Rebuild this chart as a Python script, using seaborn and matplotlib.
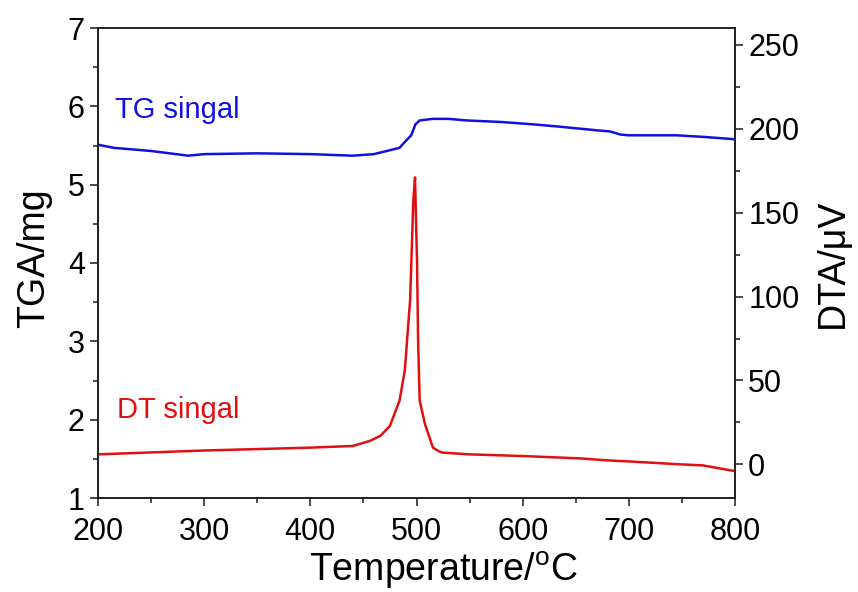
import numpy as np
import pandas as pd
import seaborn as sns
import matplotlib.pyplot as plt
from matplotlib.ticker import MultipleLocator

# TG signal (left axis, mg)
tg_temp = [200, 215, 250, 285, 300, 350, 400, 440, 460, 475, 484, 490, 495,
           499, 503, 515, 530, 547, 580, 610, 635, 650, 673, 682, 692, 700,
           745, 770, 800]
tg_mass = [5.51, 5.47, 5.43, 5.37, 5.39, 5.40, 5.39, 5.37, 5.39, 5.44, 5.47,
           5.56, 5.63, 5.77, 5.82, 5.84, 5.84, 5.82, 5.80, 5.77, 5.74, 5.72,
           5.69, 5.68, 5.64, 5.63, 5.63, 5.61, 5.58]

# DT signal (right axis, uV)
dt_temp = [200, 300, 400, 440, 456, 466, 475, 484, 489, 494, 497, 498.6,
           500.5, 501.5, 503, 508, 515.5, 522, 525, 550, 600, 654, 680, 700,
           750, 770, 800]
dt_volt = [6, 8.3, 10, 11, 14, 17, 23, 38, 56, 98, 157, 171, 121, 74, 38,
           24, 10, 7.5, 7, 6, 5, 3.6, 2.4, 1.8, 0, -0.6, -4]

tg_df = pd.DataFrame({'T': tg_temp, 'TG': tg_mass})
dt_df = pd.DataFrame({'T': dt_temp, 'DT': dt_volt})

sns.set_style('ticks')
plt.rcParams['font.family'] = ['Liberation Sans', 'DejaVu Sans']
plt.rcParams['mathtext.fontset'] = 'custom'
plt.rcParams['mathtext.rm'] = 'Liberation Sans'
plt.rcParams['mathtext.it'] = 'Liberation Sans'

fig = plt.figure(figsize=(8.58, 5.92), dpi=100)
ax = fig.add_axes([98 / 858, 1 - 498 / 592, (735 - 98) / 858, (498 - 28) / 592])
ax2 = ax.twinx()

sns.lineplot(data=tg_df, x='T', y='TG', color='#1010e0', linewidth=1.8, ax=ax)
sns.lineplot(data=dt_df, x='T', y='DT', color='#e01010', linewidth=1.8, ax=ax2)

ax.set_xlim(200, 800)
ax.set_ylim(1, 7)
ax2.set_ylim(-20, 260)

ax.xaxis.set_major_locator(MultipleLocator(100))
ax.xaxis.set_minor_locator(MultipleLocator(50))
ax.yaxis.set_major_locator(MultipleLocator(1))
ax.yaxis.set_minor_locator(MultipleLocator(0.5))
ax2.yaxis.set_major_locator(MultipleLocator(50))
ax2.yaxis.set_minor_locator(MultipleLocator(25))

for a in (ax, ax2):
    a.tick_params(which='major', length=6, width=1.1, labelsize=22, direction='out',
                  colors='#1a1a1a', labelcolor='black')
    a.tick_params(which='minor', length=3.5, width=1.1, direction='out', colors='#1a1a1a')
    for s in a.spines.values():
        s.set_linewidth(1.1)
        s.set_color('#1a1a1a')
        s.set_visible(True)
ax.tick_params(axis='y', which='both', right=False)
ax2.tick_params(axis='y', which='both', left=False)
ax.tick_params(axis='x', which='major', pad=8)

ax.set_xlabel('Temperature/$^{\\rm o}$C', fontsize=27, color='black')
ax.set_ylabel('TGA/mg', fontsize=27, color='black')
ax2.set_ylabel('DTA/\u03bcV', fontsize=27, color='black')
ax.xaxis.set_label_coords(0.542, -0.11)
ax.yaxis.set_label_coords(-0.072, 0.51)
ax2.yaxis.set_label_coords(1.125, 0.5)

ax.text(216, 5.95, 'TG singal', color='#1010e0', fontsize=21, va='center', ha='left')
ax.text(218, 2.12, 'DT singal', color='#e01010', fontsize=21, va='center', ha='left')

fig.savefig('out.png', dpi=100)
